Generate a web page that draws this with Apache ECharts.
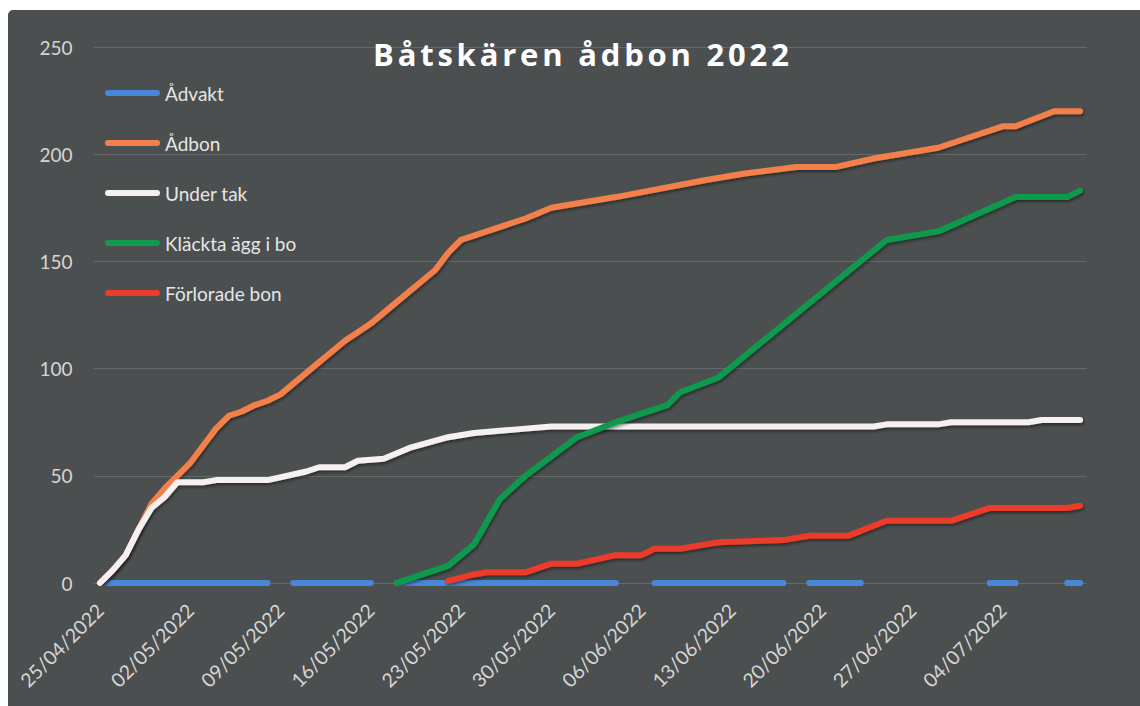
<!DOCTYPE html>
<html>
<head>
<meta charset="utf-8">
<script src="https://cdn.jsdelivr.net/npm/echarts@6.0.0/dist/echarts.min.js"></script>
<style>
html,body{margin:0;padding:0;background:#ffffff;width:1140px;height:706px;overflow:hidden}
#chart{position:absolute;left:8px;top:10px;width:1132px;height:696px;border-top-left-radius:5px;overflow:hidden}
#chart text[style*="Open Sans"]{letter-spacing:3.8px}
</style>
</head>
<body>
<div id="chart"></div>
<script>
// ---- data ----
const titleText = 'Båtskären ådbon 2022';
const seriesNames = ['Ådvakt', 'Ådbon', 'Under tak', 'Kläckta ägg i bo', 'Förlorade bon'];

const dates = [
  '25/04/2022','26/04/2022','27/04/2022','28/04/2022','29/04/2022','30/04/2022',
  '01/05/2022','02/05/2022','03/05/2022','04/05/2022','05/05/2022','06/05/2022','07/05/2022',
  '08/05/2022','09/05/2022','10/05/2022','11/05/2022','12/05/2022','13/05/2022','14/05/2022',
  '15/05/2022','16/05/2022','17/05/2022','18/05/2022','19/05/2022','20/05/2022','21/05/2022',
  '22/05/2022','23/05/2022','24/05/2022','25/05/2022','26/05/2022','27/05/2022','28/05/2022',
  '29/05/2022','30/05/2022','31/05/2022',
  '01/06/2022','02/06/2022','03/06/2022','04/06/2022','05/06/2022','06/06/2022','07/06/2022',
  '08/06/2022','09/06/2022','10/06/2022','11/06/2022','12/06/2022','13/06/2022','14/06/2022',
  '15/06/2022','16/06/2022','17/06/2022','18/06/2022','19/06/2022','20/06/2022','21/06/2022',
  '22/06/2022','23/06/2022','24/06/2022','25/06/2022','26/06/2022','27/06/2022','28/06/2022',
  '29/06/2022','30/06/2022',
  '01/07/2022','02/07/2022','03/07/2022','04/07/2022','05/07/2022','06/07/2022','07/07/2022',
  '08/07/2022','09/07/2022','10/07/2022'
];

// Ådvakt: one value per date (null = no observation)
const advakt = [
  0,0,0,0,0,0,0,0,0,0,0,0,0,0,
  null,
  0,0,0,0,0,0,0,
  null,
  0,0,0,0,0,0,0,0,0,0,0,0,0,0,0,0,0,0,
  null,null,
  0,0,0,0,0,0,0,0,0,0,0,
  null,
  0,0,0,0,0,
  null,null,null,null,null,null,null,null,null,
  0,0,0,
  null,null,null,
  0,0
];

// other series: [date index, value] at observation dates
const adbon = [[0,0],[1,6],[2,13],[3,25],[4,37],[5,44],[6,50],[7,56],[8,64],[9,72],[10,78],[11,80],[12,83],[13,85],[14,88],[15,93],[16,98],[17,103],[18,108],[19,113],[20,117],[21,121],[22,126],[23,131],[24,136],[25,141],[26,146],[27,154],[28,160],[30,164],[33,170],[35,175],[40,180],[47,188],[50,191],[54,194],[57,194],[60,198],[65,203],[70,213],[71,213],[74,220],[76,220]];
const underTak = [[0,0],[1,6],[2,13],[3,25],[4,35],[5,40],[6,47],[8,47],[9,48],[13,48],[16,52],[17,54],[19,54],[20,57],[22,58],[24,63],[27,68],[29,70],[31,71],[33,72],[35,73],[60,73],[61,74],[65,74],[66,75],[72,75],[73,76],[76,76]];
const klackta = [[23,0],[25,4],[27,8],[29,18],[31,39],[33,50],[37,68],[40,75],[44,83],[45,89],[48,96],[61,160],[65,164],[71,180],[75,180],[76,183]];
const forlorade = [[27,1],[29,4],[30,5],[33,5],[35,9],[37,9],[40,13],[42,13],[43,16],[45,16],[47,18],[48,19],[53,20],[55,22],[58,22],[61,29],[66,29],[69,35],[75,35],[76,36]];

const colors = ['#4a86d6', '#f3804b', '#f5f0f2', '#109a4d', '#ec3b2b'];

// ---- chart ----
const chart = echarts.init(document.getElementById('chart'), null, {renderer: 'svg'});

function mk(name, color, data, connect, shadow) {
  const ls = {color: color, width: 6, cap: 'round', join: 'round'};
  if (shadow) {
    ls.shadowColor = 'rgba(0,0,0,0.45)';
    ls.shadowBlur = 3; ls.shadowOffsetX = 1; ls.shadowOffsetY = 2;
  }
  return {
    name: name, type: 'line', data: data, color: color,
    symbol: 'none', connectNulls: connect,
    lineStyle: ls,
    emphasis: {disabled: true}
  };
}

const option = {
  backgroundColor: '#4b4f4f',
  animation: false,
  title: {
    text: titleText, left: 365, top: 28, padding: 0,
    textStyle: {color: '#ffffff', fontFamily: 'Open Sans', fontWeight: 'bold', fontSize: 31}
  },
  legend: {
    orient: 'vertical', left: 97, top: 73, padding: 0,
    itemWidth: 55, itemHeight: 6, itemGap: 30,
    icon: 'path://M3,0H52A3,3,0,0,1,52,6H3A3,3,0,0,1,3,0Z',
    textStyle: {color: '#e6e6e6', fontFamily: 'Lato', fontSize: 19, lineHeight: 20},
    data: seriesNames
  },
  grid: {left: 85.5, right: 53.5, top: 37, bottom: 123},
  xAxis: {
    type: 'category', data: dates, boundaryGap: true,
    axisLine: {show: false}, axisTick: {show: false},
    axisLabel: {interval: 6, rotate: 45, margin: 24, color: '#d6d6d6', fontFamily: 'Lato', fontSize: 19.5}
  },
  yAxis: {
    type: 'value', min: 0, max: 250, interval: 50,
    axisLine: {show: false}, axisTick: {show: false},
    axisLabel: {margin: 21, color: '#d6d6d6', fontFamily: 'Lato', fontSize: 19},
    splitLine: {lineStyle: {color: '#646869', width: 1}}
  },
  series: [
    mk(seriesNames[0], colors[0], advakt, false, false),
    mk(seriesNames[1], colors[1], adbon, true, true),
    mk(seriesNames[2], colors[2], underTak, true, true),
    mk(seriesNames[3], colors[3], klackta, true, true),
    mk(seriesNames[4], colors[4], forlorade, true, true)
  ]
};
chart.setOption(option);
</script>
</body>
</html>
